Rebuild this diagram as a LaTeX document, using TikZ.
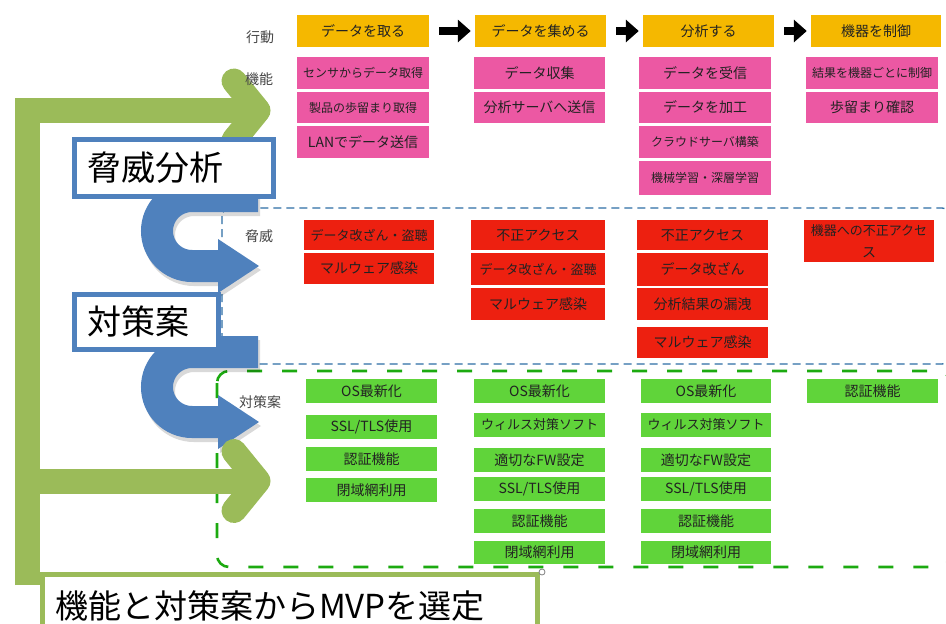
\documentclass[tikz,border=0pt]{standalone}
\usepackage{fontspec}
\setmainfont{Noto Sans CJK JP}
\newfontfamily\cjk{Noto Sans CJK JP}
\usetikzlibrary{arrows.meta}
\definecolor{pinkc}{RGB}{236,88,163}
\definecolor{redc}{RGB}{237,32,16}
\definecolor{greenc}{RGB}{96,212,58}
\definecolor{yellowc}{RGB}{245,184,0}
\definecolor{olivec}{RGB}{155,187,89}
\definecolor{bluearr}{RGB}{79,129,189}
\definecolor{dashblue}{RGB}{46,110,165}
\definecolor{dashgreen}{RGB}{28,170,16}
\definecolor{txt}{RGB}{34,34,34}
\definecolor{lbltxt}{RGB}{70,70,70}
\newcommand\fa{\fontsize{14}{17}\selectfont}
\newcommand\fb{\fontsize{12}{15}\selectfont}
\newcommand\fc{\fontsize{13}{16}\selectfont}
\newcommand\bx[7]{\node[cell,fill=#2,minimum width={#5-#3},minimum height={#6-#4}] (#1) at ({(#3+#5)/2},{(#4+#6)/2}) {#7};}
\newcommand\uarrowshape[1]{%
  \draw[line width=32, #1] (258,196) -- (192,196)
    .. controls (172.67,196) and (157,211.67) .. (157,231)
    .. controls (157,250.33) and (172.67,266) .. (192,266) -- (222,266);
  \fill[#1] (218,239) -- (259,266) -- (218,293) -- cycle;}
\begin{document}
\begin{tikzpicture}[x=1pt,y=-1pt,
  cell/.style={inner sep=0pt, text=txt, font=\cjk\fa, align=center},
  lbl/.style={inner sep=0pt, text=lbltxt, font=\cjk\fa},
  blockarrow/.style={line width=8pt, black, -{Triangle[length=13pt,width=22pt]}, shorten <=10pt, shorten >=4pt},
  olivebar/.style={olivec, line width=25pt, line join=miter},
  olivechev/.style={olivec, line width=25pt, line cap=round, line join=round},
  bluebox/.style={draw=bluearr, line width=5pt, fill=white, inner xsep=12.5pt, inner ysep=0pt, align=left, font=\cjk\fontsize{34}{40}\selectfont},
  dashbluebox/.style={draw=dashblue, line width=1.3pt, dash pattern=on 8pt off 5pt, rounded corners=8pt},
  dashgreenbox/.style={draw=dashgreen, line width=2.6pt, dash pattern=on 15pt off 20pt, rounded corners=12pt}
]
\useasboundingbox (0,0) rectangle (946,624);
\fill[white] (0,0) rectangle (946,624);

% dashed group frames
\draw[dashbluebox] (222,208) rectangle (950,364);
\draw[dashgreenbox] (217,371) rectangle (950,567);

% action row
\bx{a1}{yellowc}{297}{15}{429}{47}{データを取る}
\bx{a2}{yellowc}{475}{15}{606}{47}{データを集める}
\bx{a3}{yellowc}{643}{15}{774}{47}{分析する}
\bx{a4}{yellowc}{811}{15}{941}{47}{機器を制御}
\draw[blockarrow] (a1) -- (a2);
\draw[blockarrow] (a2) -- (a3);
\draw[blockarrow] (a3) -- (a4);

% functions
\bx{p11}{pinkc}{297}{57}{429}{89}{\fb センサからデータ取得}
\bx{p12}{pinkc}{297}{92}{429}{123}{\fb 製品の歩留まり取得}
\bx{p13}{pinkc}{297}{126}{429}{158}{LANでデータ送信}
\bx{p21}{pinkc}{474}{57}{605}{89}{データ収集}
\bx{p22}{pinkc}{474}{92}{605}{123}{分析サーバへ送信}
\bx{p31}{pinkc}{639}{57}{771}{89}{データを受信}
\bx{p32}{pinkc}{639}{92}{771}{123}{データを加工}
\bx{p33}{pinkc}{639}{126}{771}{158}{\fb クラウドサーバ構築}
\bx{p34}{pinkc}{639}{161}{771}{195}{\fb 機械学習・深層学習}
\bx{p41}{pinkc}{806}{57}{938}{89}{\fb 結果を機器ごとに制御}
\bx{p42}{pinkc}{806}{92}{938}{123}{歩留まり確認}

% threats
\bx{r11}{redc}{304}{220}{434}{250}{\fc データ改ざん・盗聴}
\bx{r12}{redc}{304}{253}{434}{284}{マルウェア感染}
\bx{r21}{redc}{471}{220}{605}{250}{不正アクセス}
\bx{r22}{redc}{471}{253}{605}{285}{\fc データ改ざん・盗聴}
\bx{r23}{redc}{471}{288}{605}{320}{マルウェア感染}
\bx{r31}{redc}{637}{220}{768}{250}{不正アクセス}
\bx{r32}{redc}{637}{253}{768}{286}{データ改ざん}
\bx{r33}{redc}{637}{288}{768}{320}{分析結果の漏洩}
\bx{r34}{redc}{637}{327}{768}{358}{マルウェア感染}
\bx{r41}{redc}{804}{220}{934}{262}{\fc 機器への不正アクセ\\[5pt]ス}

% countermeasures
\bx{g11}{greenc}{306}{379}{437}{403}{OS最新化}
\bx{g12}{greenc}{306}{415}{437}{439}{SSL/TLS使用}
\bx{g13}{greenc}{306}{447}{437}{471}{認証機能}
\bx{g14}{greenc}{306}{478}{437}{502}{閉域網利用}
\bx{g21}{greenc}{474}{379}{605}{403}{OS最新化}
\bx{g22}{greenc}{474}{413}{605}{437}{\fc ウィルス対策ソフト}
\bx{g23}{greenc}{474}{448}{605}{472}{適切なFW設定}
\bx{g24}{greenc}{474}{477}{605}{501}{SSL/TLS使用}
\bx{g25}{greenc}{474}{509}{605}{533}{認証機能}
\bx{g26}{greenc}{474}{541}{605}{564}{閉域網利用}
\bx{g31}{greenc}{641}{379}{771}{403}{OS最新化}
\bx{g32}{greenc}{641}{413}{771}{437}{\fc ウィルス対策ソフト}
\bx{g33}{greenc}{641}{448}{771}{472}{適切なFW設定}
\bx{g34}{greenc}{641}{477}{771}{501}{SSL/TLS使用}
\bx{g35}{greenc}{641}{509}{771}{533}{認証機能}
\bx{g36}{greenc}{641}{541}{771}{564}{閉域網利用}
\bx{g41}{greenc}{807}{379}{938}{403}{認証機能}

% big green L arrow (top)
\draw[olivebar] (27.5,585) -- (27.5,110.5) -- (258,110.5);
\draw[olivechev] (234,81) -- (258,110.5) -- (234,140);

% blue U-turn arrows with soft shadow
\begin{scope}[shift={(2,4)}, transparency group, opacity=.15]
  \uarrowshape{black}
\end{scope}
\uarrowshape{bluearr}
\begin{scope}[shift={(2,160)}, transparency group, opacity=.15]
  \uarrowshape{black}
\end{scope}
\begin{scope}[shift={(0,156)}]
  \uarrowshape{bluearr}
\end{scope}

% step boxes
\node[bluebox, minimum width=199pt, minimum height=57pt, text width=174pt] (threatbox) at (174,168) {脅威分析};
\node[bluebox, minimum width=144pt, minimum height=55pt, text width=119pt] (measurebox) at (146.5,322) {対策案};

% green arrow (bottom)
\draw[olivebar] (27.5,481) -- (258,481);
\draw[olivechev] (234,451.5) -- (258,481) -- (234,510.5);

% MVP box
\draw[olivec, line width=5pt, fill=white] (42.5,574.5) rectangle (537.5,680);
\node[anchor=west, inner sep=0pt, text=black, font=\cjk\fontsize{33}{38}\selectfont] (mvp) at (55,606) {機能と対策案からMVPを選定};
\draw[gray, line width=0.8pt, fill=white] (542,572) circle (3);

% row labels
\node[lbl] (l1) at (260,37) {行動};
\node[lbl] (l2) at (259,79) {機能};
\node[lbl] (l3) at (259,236) {脅威};
\node[lbl] (l4) at (260,402) {対策案};
\end{tikzpicture}
\end{document}
